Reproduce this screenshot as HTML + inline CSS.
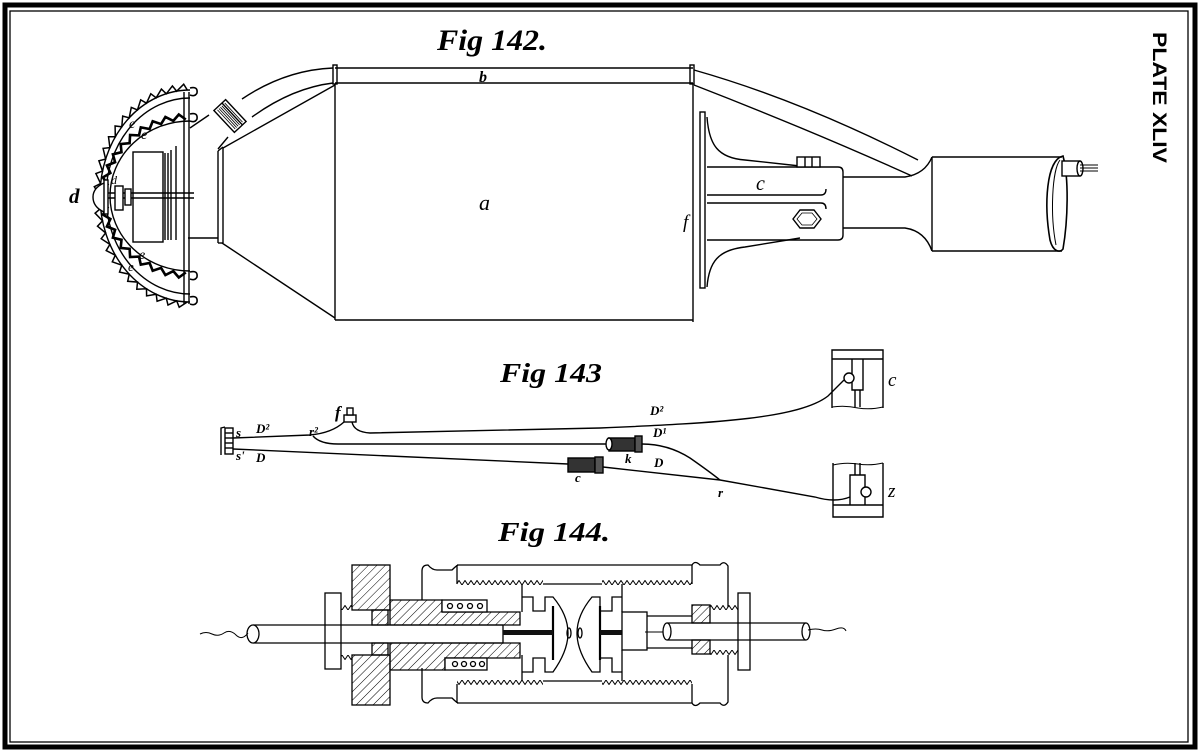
<!DOCTYPE html>
<html><head><meta charset="utf-8">
<style>
html,body{margin:0;padding:0;background:#fff;}
svg{display:block;}
text{font-family:"Liberation Serif",serif;font-style:italic;fill:#000;}
</style></head><body>
<svg width="1200" height="753" viewBox="0 0 1200 753" xmlns="http://www.w3.org/2000/svg">
<defs>
<pattern id="hatch" patternUnits="userSpaceOnUse" width="6" height="6" patternTransform="rotate(45)">
<line x1="0" y1="0" x2="0" y2="6" stroke="#000" stroke-width="1"/>
</pattern>
<pattern id="thread" patternUnits="userSpaceOnUse" width="6" height="5">
<polyline points="0,5 3,0.5 6,5" fill="none" stroke="#000" stroke-width="1"/>
</pattern>
<pattern id="threadd" patternUnits="userSpaceOnUse" width="6" height="5">
<polyline points="0,0 3,4.5 6,0" fill="none" stroke="#000" stroke-width="1"/>
</pattern>
</defs>

<!-- border -->
<rect x="5" y="5" width="1190" height="742" fill="none" stroke="#000" stroke-width="5"/>
<rect x="10" y="11" width="1178" height="731" fill="none" stroke="#000" stroke-width="1.3"/>

<!-- PLATE XLIV -->
<text transform="translate(1153,32) rotate(90)" font-size="19" textLength="131" lengthAdjust="spacingAndGlyphs" style="font-family:'Liberation Sans',sans-serif;font-style:normal;font-weight:bold;">PLATE XLIV</text>

<!-- titles -->
<text x="437" y="50" font-size="30" textLength="110" lengthAdjust="spacingAndGlyphs" font-weight="bold">Fig 142.</text>
<text x="500" y="382" font-size="27" textLength="102" lengthAdjust="spacingAndGlyphs" font-weight="bold">Fig 143</text>
<text x="498" y="541" font-size="27" textLength="112" lengthAdjust="spacingAndGlyphs" font-weight="bold">Fig 144.</text>

<!-- ================= FIG 142 ================= -->
<g fill="none" stroke="#000" stroke-width="1.4">
<!-- band b -->
<line x1="335" y1="68" x2="693" y2="68"/>
<line x1="335" y1="83" x2="693" y2="83"/>
<rect x="333" y="65" width="4" height="19"/>
<rect x="690" y="65" width="4" height="19"/>
<!-- cylinder -->
<line x1="335" y1="84" x2="335" y2="320"/>
<line x1="693" y1="84" x2="693" y2="322"/>
<line x1="335" y1="320" x2="693" y2="320"/>
<!-- cone -->
<line x1="335" y1="85" x2="223" y2="148"/>
<line x1="335" y1="318" x2="222" y2="243"/>
<line x1="218" y1="151" x2="218" y2="243"/>
<line x1="223" y1="148" x2="223" y2="243"/>
<line x1="218" y1="151" x2="223" y2="147"/>
<line x1="218" y1="243" x2="223" y2="243"/>
<line x1="188" y1="238" x2="218" y2="238"/>
<line x1="190" y1="128" x2="209" y2="115"/>
<line x1="228" y1="137" x2="218" y2="149"/>
<!-- left tube -->
<path d="M333,68 Q285,70 242,99"/>
<path d="M333,83 Q292,88 252,117"/>
<!-- connector -->
<g transform="translate(230,116) rotate(47)">
<rect x="-15" y="-8" width="30" height="16" fill="#fff"/>
<line x1="-15" y1="-3" x2="15" y2="-3"/>
<line x1="-13" y1="-5" x2="13" y2="-5" stroke-width="0.8"/>
<line x1="-13" y1="-1" x2="13" y2="-1" stroke-width="0.8"/>
<line x1="-13" y1="1" x2="13" y2="1" stroke-width="0.8"/>
<line x1="-13" y1="3" x2="13" y2="3" stroke-width="0.8"/>
<line x1="-13" y1="5" x2="13" y2="5" stroke-width="0.8"/>
</g>
<!-- right tube -->
<path d="M694,70 Q800,100 918,160"/>
<path d="M694,85 Q810,130 912,176"/>
<!-- neck & end cylinder -->
<path d="M843,177 L905,177 Q925,174 932,157"/>
<path d="M843,228 L905,228 Q925,231 932,251"/>
<line x1="932" y1="157" x2="1062" y2="157"/>
<line x1="932" y1="251" x2="1062" y2="251"/>
<line x1="932" y1="157" x2="932" y2="251"/>
<path d="M1063,156 C1046,160 1044,205 1050,240 C1053,252 1060,253 1063,249 C1068,220 1069,178 1063,156 Z" stroke-width="1.6"/>
<path d="M1060,160 C1052,170 1050,215 1056,245" stroke-width="1"/>
<rect x="1062" y="161" width="17" height="15" fill="#fff"/>
<ellipse cx="1080" cy="168.5" rx="3" ry="7.5" fill="#fff"/>
<line x1="1080" y1="165" x2="1098" y2="165" stroke-width="1"/>
<line x1="1080" y1="168" x2="1098" y2="168" stroke-width="1"/>
<line x1="1080" y1="171" x2="1098" y2="171" stroke-width="1"/>
<!-- flange f -->
<rect x="700" y="112" width="5" height="176"/>
<path d="M707,117 C709,145 718,158 745,160 L800,166"/>
<path d="M707,167 L838,167 Q843,167 843,172 L843,235 Q843,240 838,240 L707,240"/>
<path d="M800,238 L745,247 C718,250 709,262 707,287"/>
<path d="M707,195 L821,195 Q826,195 826,189"/>
<path d="M707,203 L821,203 Q826,203 826,209"/>
<rect x="797" y="157" width="23" height="10" fill="#fff"/>
<line x1="805" y1="157" x2="805" y2="167"/>
<line x1="812" y1="157" x2="812" y2="167"/>
<polygon points="793,219 800,210 814,210 821,219 814,228 800,228"/>
<polygon points="797,219 802,213 812,213 817,219 812,225 802,225" stroke-width="0.8"/>
<!-- dome -->
<path d="M190,90 A90,106 0 0 0 190,302"/>
<path id="saw" d="M190,86 A95,111 0 0 0 190,306" stroke-width="6" stroke-dasharray="2.5 6.5"/>
<path d="M190,98 A84,98 0 0 0 190,294"/>
<path id="zig" d="M190,117 A86,79 0 0 0 190,275" stroke-width="2.4" stroke-dasharray="5 1.5"/>
<path d="M190,121 A80,75 0 0 0 190,271"/>
<!-- knobs -->
<path d="M190,88 Q198,86 197,93 Q195,97 190,95" stroke-width="1.6"/>
<path d="M190,114 Q198,112 197,119 Q195,123 190,121" stroke-width="1.6"/>
<path d="M190,272 Q198,270 197,277 Q195,281 190,279" stroke-width="1.6"/>
<path d="M190,297 Q198,295 197,302 Q195,306 190,304" stroke-width="1.6"/>
<!-- vertical rod -->
<line x1="184" y1="92" x2="184" y2="304"/>
<line x1="189" y1="92" x2="189" y2="304"/>
<!-- nose -->
<path d="M104,183 Q93,188 93,197 Q93,207 104,212" fill="#fff"/>
<rect x="104" y="180" width="4" height="34" fill="#fff"/>
<!-- interior -->
<rect x="133" y="152" width="30" height="90" fill="#fff"/>
<line x1="165" y1="153" x2="165" y2="240"/>
<line x1="168" y1="153" x2="168" y2="240"/>
<line x1="171" y1="150" x2="171" y2="240"/>
<line x1="176" y1="146" x2="176" y2="240"/>
<line x1="108" y1="193" x2="194" y2="193"/>
<line x1="108" y1="198" x2="194" y2="198"/>
<rect x="115" y="186" width="8" height="24" fill="#fff"/>
<rect x="125" y="189" width="6" height="16" fill="#fff"/>
</g>
<!-- fig 142 labels -->
<text x="479" y="210" font-size="22">a</text>
<text x="479" y="82" font-size="16" font-weight="bold">b</text>
<text x="756" y="190" font-size="20">c</text>
<text x="683" y="228" font-size="19">f</text>
<text x="69" y="203" font-size="21" font-weight="bold">d</text>
<text x="111" y="184" font-size="12">d</text>
<text x="129" y="128" font-size="14">e</text>
<text x="141" y="139" font-size="14">e</text>
<text x="139" y="259" font-size="14">e</text>
<text x="128" y="271" font-size="13">e</text>

<!-- ================= FIG 143 ================= -->
<g fill="none" stroke="#000" stroke-width="1.4">
<!-- terminal -->
<path d="M221,455 L221,428 L225,427"/>
<rect x="225" y="428" width="8" height="26"/>
<line x1="225" y1="433" x2="233" y2="433"/>
<line x1="225" y1="438" x2="233" y2="438"/>
<line x1="225" y1="443" x2="233" y2="443"/>
<line x1="225" y1="448" x2="233" y2="448"/>
<!-- D2 -->
<path d="M233,438 L310,435 Q332,433 344,422"/>
<path d="M352,422 Q354,432 370,433 L600,428 C720,423 800,418 828,396 Q838,386 844,380"/>
<rect x="344" y="415" width="12" height="7" fill="#fff"/>
<rect x="347" y="408" width="6" height="7" fill="#fff"/>
<!-- D1 -->
<path d="M313,436 Q320,444 338,444 L608,444"/>
<path d="M642,444 Q668,444 690,458 Q710,472 720,480"/>
<!-- D -->
<path d="M233,449 L568,464"/>
<path d="M603,467 L720,480 L815,497 Q835,503 850,497"/>
<!-- components -->
<rect x="609" y="438" width="26" height="13" fill="#333"/>
<rect x="635" y="436" width="7" height="16" fill="#555"/>
<ellipse cx="609" cy="444" rx="3" ry="6" fill="#fff"/>
<rect x="568" y="458" width="27" height="14" fill="#333"/>
<rect x="595" y="457" width="8" height="16" fill="#555"/>
<!-- box c -->
<path d="M832,408 L832,350 L883,350 L883,408"/>
<line x1="832" y1="359" x2="883" y2="359"/>
<path d="M852,359 L852,390 L863,390 L863,359"/>
<path d="M855,390 L855,407 M860,390 L860,407"/>
<path d="M832,407 Q845,405 858,408 Q870,410 883,407" stroke-width="1"/>
<circle cx="849" cy="378" r="5" fill="#fff"/>
<!-- box z -->
<path d="M833,465 Q845,462 858,464 Q870,466 883,463" stroke-width="1"/>
<path d="M833,463 L833,517 L883,517 L883,463"/>
<line x1="833" y1="505" x2="883" y2="505"/>
<path d="M855,463 L855,475 M860,463 L860,475"/>
<path d="M850,505 L850,475 L865,475 L865,505"/>
<circle cx="866" cy="492" r="5" fill="#fff"/>
</g>
<!-- fig 143 labels -->
<g font-size="13" font-weight="bold">
<text x="236" y="437">s</text>
<text x="256" y="433">D²</text>
<text x="309" y="436">r²</text>
<text x="236" y="460">s'</text>
<text x="256" y="462">D</text>
<text x="650" y="415">D²</text>
<text x="653" y="437">D¹</text>
<text x="625" y="463">k</text>
<text x="654" y="467">D</text>
<text x="575" y="482">c</text>
<text x="718" y="497">r</text>
</g>
<text x="335" y="418" font-size="17" font-weight="bold">f</text>
<text x="888" y="386" font-size="19">c</text>
<text x="888" y="497" font-size="19">z</text>

<!-- ================= FIG 144 ================= -->
<g fill="none" stroke="#000" stroke-width="1.3">
<!-- left nut -->
<rect x="325" y="593" width="16" height="76" fill="#fff"/>
<!-- threads nut to flange -->
<rect x="341" y="605" width="11" height="5" fill="url(#thread)" stroke="none"/>
<rect x="341" y="655" width="11" height="5" fill="url(#threadd)" stroke="none"/>
<!-- big hatched flange -->
<rect x="352" y="565" width="38" height="45" fill="url(#hatch)"/>
<rect x="352" y="655" width="38" height="50" fill="url(#hatch)"/>
<rect x="372" y="610" width="16" height="15" fill="url(#hatch)"/>
<rect x="372" y="643" width="16" height="12" fill="url(#hatch)"/>
<!-- sleeve -->
<polygon points="390,600 442,600 442,612 520,612 520,625 390,625" fill="url(#hatch)"/>
<polygon points="390,643 520,643 520,658 445,658 445,670 390,670" fill="url(#hatch)"/>
<rect x="442" y="600" width="45" height="12" fill="#fff"/>
<rect x="445" y="658" width="42" height="12" fill="#fff"/>
<circle cx="450" cy="606" r="2.5"/><circle cx="460" cy="606" r="2.5"/><circle cx="470" cy="606" r="2.5"/><circle cx="480" cy="606" r="2.5"/>
<circle cx="455" cy="664" r="2.5"/><circle cx="464" cy="664" r="2.5"/><circle cx="473" cy="664" r="2.5"/><circle cx="482" cy="664" r="2.5"/>
<!-- left rod -->
<path d="M253,625 L503,625 L503,643 L253,643"/>
<ellipse cx="253" cy="634" rx="6" ry="9" fill="#fff"/>
<path d="M200,634 q6,-3 12,0 t12,-1 t12,2 t12,-2" stroke-width="1"/>
<!-- casing -->
<path d="M422,600 L422,571 Q422,565 428,565 Q432,570 437,570 L452,570 Q456,566 458,565"/>
<path d="M422,668 L422,697 Q422,703 428,703 Q432,698 437,698 L452,698 Q456,702 458,703"/>
<line x1="457" y1="565" x2="692" y2="565"/>
<line x1="457" y1="703" x2="692" y2="703"/>
<line x1="457" y1="565" x2="457" y2="584"/>
<line x1="457" y1="684" x2="457" y2="703"/>
<rect x="457" y="580" width="86" height="5" fill="url(#thread)" stroke="none"/>
<rect x="602" y="580" width="90" height="5" fill="url(#thread)" stroke="none"/>
<line x1="543" y1="584" x2="602" y2="584"/>
<rect x="457" y="680" width="86" height="5" fill="url(#threadd)" stroke="none"/>
<rect x="602" y="680" width="90" height="5" fill="url(#threadd)" stroke="none"/>
<line x1="543" y1="681" x2="602" y2="681"/>
<line x1="522" y1="584" x2="522" y2="612"/>
<line x1="522" y1="655" x2="522" y2="681"/>
<line x1="622" y1="584" x2="622" y2="612"/>
<line x1="622" y1="650" x2="622" y2="681"/>
<!-- left cup -->
<path d="M522,597 L533,597 L533,611 L545,611 L545,597 L553,597 Q568,615 568,633 Q568,651 553,672 L545,672 L545,658 L533,658 L533,672 L522,672"/>
<line x1="553" y1="606" x2="553" y2="660" stroke-width="2.2"/>
<!-- right cup -->
<path d="M622,597 L612,597 L612,611 L600,611 L600,597 L592,597 Q577,615 577,633 Q577,651 592,672 L600,672 L600,658 L612,658 L612,672 L622,672"/>
<line x1="600" y1="606" x2="600" y2="660" stroke-width="2.2"/>
<rect x="503" y="630" width="50" height="5" fill="#111" stroke="none"/>
<rect x="600" y="630" width="47" height="5" fill="#111" stroke="none"/>
<ellipse cx="569" cy="633" rx="2" ry="5"/>
<ellipse cx="580" cy="633" rx="2" ry="5"/>
<!-- right threaded block -->
<rect x="622" y="612" width="25" height="38" fill="#fff"/>
<line x1="647" y1="616" x2="692" y2="616"/>
<line x1="647" y1="648" x2="692" y2="648"/>
<!-- right hatched & nut -->
<rect x="692" y="605" width="18" height="18" fill="url(#hatch)"/>
<rect x="692" y="640" width="18" height="14" fill="url(#hatch)"/>
<rect x="710" y="605" width="28" height="5" fill="url(#thread)" stroke="none"/>
<rect x="710" y="650" width="28" height="5" fill="url(#threadd)" stroke="none"/>
<rect x="738" y="593" width="12" height="77" fill="#fff"/>
<!-- right cap -->
<path d="M692,565 Q695,560 700,565 L720,565 Q724,560 728,566 L728,607"/>
<path d="M692,703 Q695,708 700,703 L720,703 Q724,708 728,702 L728,655"/>
<line x1="692" y1="565" x2="692" y2="584"/>
<line x1="692" y1="684" x2="692" y2="703"/>
<!-- right rod -->
<path d="M667,623 L806,623 M667,640 L806,640"/>
<ellipse cx="667" cy="631.5" rx="4" ry="8.5" fill="#fff"/>
<ellipse cx="806" cy="631.5" rx="4" ry="8.5" fill="#fff"/>
<path d="M645,632 L663,632" stroke-width="1"/>
<path d="M808,630 q8,-2 14,0 t14,-1 t10,2" stroke-width="1"/>
</g>
</svg>
<script>
(function(){
function P(cx,cy,rx,ry,t){return [cx-rx*Math.sin(t),cy-ry*Math.cos(t)];}
function f(p){return p[0].toFixed(1)+','+p[1].toFixed(1);}
var s=document.getElementById('saw');
if(s){
var n=26,t0=0.03,t1=Math.PI-0.03,st=(t1-t0)/n,d='';
for(var i=0;i<=n;i++){var t=t0+st*i;d+=(i?'L':'M')+f(P(190,196,90,106,t));
if(i<n){d+='L'+f(P(190,196,96,112,t+st*0.3));}}
s.setAttribute('d',d);s.setAttribute('stroke-width','1.5');s.removeAttribute('stroke-dasharray');
}
var z=document.getElementById('zig');
if(z){
var m=40,a0=0.05,a1=Math.PI-0.05,d2='';
for(var j=0;j<=m;j++){var tt=a0+(a1-a0)*j/m;var k=(j%2)?1.04:0.97;d2+=(j?'L':'M')+f(P(190,196,86*k,79*k,tt));}
z.setAttribute('d',d2);z.setAttribute('stroke-width','2.6');z.removeAttribute('stroke-dasharray');
}
})();
</script>
</body></html>
